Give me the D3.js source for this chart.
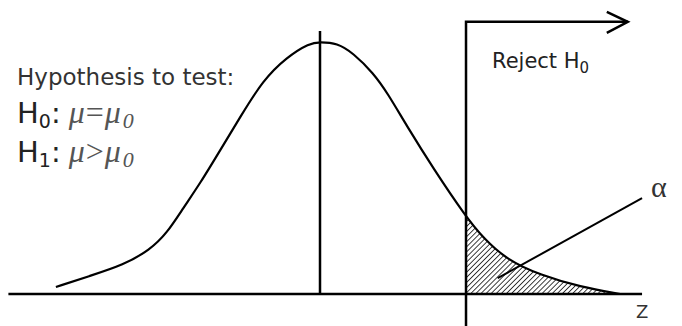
<!DOCTYPE html>
<html>
<head>
<meta charset="utf-8">
<script src="https://cdn.jsdelivr.net/npm/d3@7"></script>
<style>
  body { margin: 0; background: #fff; }
  svg { display: block; }
</style>
</head>
<body>
<div id="chart"></div>
<script>
// Curve points (z units, height relative to the peak)
const curveZ = [-2.78, -2.42, -2.07, -1.79, -1.61, -1.44, -1.26, -1.05, -0.84, -0.60, -0.35, -0.11, 0,
                0.18, 0.35, 0.56, 0.71, 0.92, 1.19, 1.537, 1.72, 1.97, 2.32, 2.74, 3.16];
const curveH = [0.028, 0.072, 0.115, 0.175, 0.242, 0.341, 0.44, 0.571, 0.702, 0.849, 0.94, 0.996, 1,
                0.996, 0.956, 0.877, 0.798, 0.663, 0.5, 0.306, 0.222, 0.135, 0.075, 0.028, 0];

const criticalZ = 1.537;          // start of rejection region
const axisExtent = [-3.28, 3.39]; // horizontal axis line
const arrowEnd = 3.24;            // end of "reject" arrow
const alphaPointer = [[1.87, 0.063], [3.39, 0.38]];

const width = 682, height = 326;

// Scales: 95px per z unit, peak at x=320; baseline y=294, peak y=42
const x = d3.scaleLinear().domain([-3, 3]).range([35, 605]);
const y = d3.scaleLinear().domain([0, 1]).range([294, 42]);

const points = curveZ.map((z, i) => ({ z: z, h: curveH[i] }));

const svg = d3.select("#chart").append("svg")
    .attr("width", width)
    .attr("height", height);

svg.append("rect").attr("width", width).attr("height", height).attr("fill", "#fff");

// hatch pattern for alpha region
const defs = svg.append("defs");
const pat = defs.append("pattern")
    .attr("id", "hatch")
    .attr("patternUnits", "userSpaceOnUse")
    .attr("width", 3.6)
    .attr("height", 3.6)
    .attr("patternTransform", "rotate(45)");
pat.append("rect").attr("width", 3.6).attr("height", 3.6).attr("fill", "#fff");
pat.append("line")
    .attr("x1", 0).attr("y1", 0).attr("x2", 0).attr("y2", 3.6)
    .attr("stroke", "#2a2a2a")
    .attr("stroke-width", 1.8);

defs.append("clipPath").attr("id", "tailclip")
    .append("rect")
    .attr("x", x(criticalZ)).attr("y", 0)
    .attr("width", width).attr("height", y(0));

const curve = d3.curveBasis;

// shaded tail
const area = d3.area()
    .x(d => x(d.z))
    .y0(y(0))
    .y1(d => y(d.h))
    .curve(curve);
svg.append("path")
    .datum(points)
    .attr("d", area)
    .attr("clip-path", "url(#tailclip)")
    .attr("fill", "url(#hatch)");

// horizontal axis
svg.append("line")
    .attr("x1", x(axisExtent[0])).attr("x2", x(axisExtent[1]))
    .attr("y1", y(0)).attr("y2", y(0))
    .attr("stroke", "#000")
    .attr("stroke-width", 2.5);

// mean line
svg.append("line")
    .attr("x1", x(0)).attr("x2", x(0))
    .attr("y1", y(1.044)).attr("y2", y(0))
    .attr("stroke", "#000")
    .attr("stroke-width", 2.5);

// density curve
const line = d3.line()
    .x(d => x(d.z))
    .y(d => y(d.h))
    .curve(curve);
svg.append("path")
    .datum(points)
    .attr("d", line)
    .attr("fill", "none")
    .attr("stroke", "#000")
    .attr("stroke-width", 2.2);

// critical line + arrow
const topY = y(1.08);
svg.append("path")
    .attr("d", `M${x(criticalZ)},${height}V${topY}H${x(arrowEnd)}`)
    .attr("fill", "none")
    .attr("stroke", "#000")
    .attr("stroke-width", 2.5);
svg.append("path")
    .attr("d", `M${x(arrowEnd) - 21},${topY - 10}L${x(arrowEnd)},${topY}L${x(arrowEnd) - 21},${topY + 11}`)
    .attr("fill", "none")
    .attr("stroke", "#000")
    .attr("stroke-width", 2.5);

// alpha pointer
svg.append("line")
    .attr("x1", x(alphaPointer[0][0])).attr("y1", y(alphaPointer[0][1]))
    .attr("x2", x(alphaPointer[1][0])).attr("y2", y(alphaPointer[1][1]))
    .attr("stroke", "#000")
    .attr("stroke-width", 2);

svg.append("text")
    .attr("x", 651).attr("y", 197)
    .style("font", "30px 'Liberation Serif', serif")
    .attr("fill", "#333")
    .text("α");

svg.append("text")
    .attr("x", 636).attr("y", 318)
    .style("font", "18px 'DejaVu Sans', sans-serif")
    .attr("fill", "#333")
    .text("Z");

// Reject H0
const rej = svg.append("text")
    .attr("x", 492).attr("y", 68)
    .style("font", "21px 'DejaVu Sans', sans-serif")
    .attr("fill", "#222");
rej.append("tspan").text("Reject H");
rej.append("tspan").attr("dy", 5).style("font-size", "15px").text("0");

// hypotheses
svg.append("text")
    .attr("x", 17).attr("y", 85)
    .style("font", "23px 'DejaVu Sans', sans-serif")
    .attr("fill", "#333")
    .text("Hypothesis to test:");

function hyp(yPos, idx, op) {
    const t = svg.append("text")
        .attr("x", 17).attr("y", yPos)
        .style("font", "29px 'DejaVu Sans', sans-serif")
        .attr("fill", "#222");
    t.append("tspan").text("H");
    t.append("tspan").attr("dy", 5).style("font-size", "19px").text(idx);
    t.append("tspan").attr("dy", -5).text(":");
    const s = "font-family:'Liberation Serif',serif;font-style:italic;font-size:32px";
    t.append("tspan").attr("dx", 8).attr("style", s).attr("fill", "#555").text("μ");
    t.append("tspan").attr("dx", 1).attr("style", s.replace("font-style:italic;", "")).attr("fill", "#555").text(op);
    t.append("tspan").attr("dx", 1).attr("style", s).attr("fill", "#555").text("μ");
    t.append("tspan").attr("dx", 2).attr("dy", 5).attr("style", s).style("font-size", "22px").attr("fill", "#555").text("0");
}
hyp(123, "0", "=");
hyp(162, "1", ">");
</script>
</body>
</html>
